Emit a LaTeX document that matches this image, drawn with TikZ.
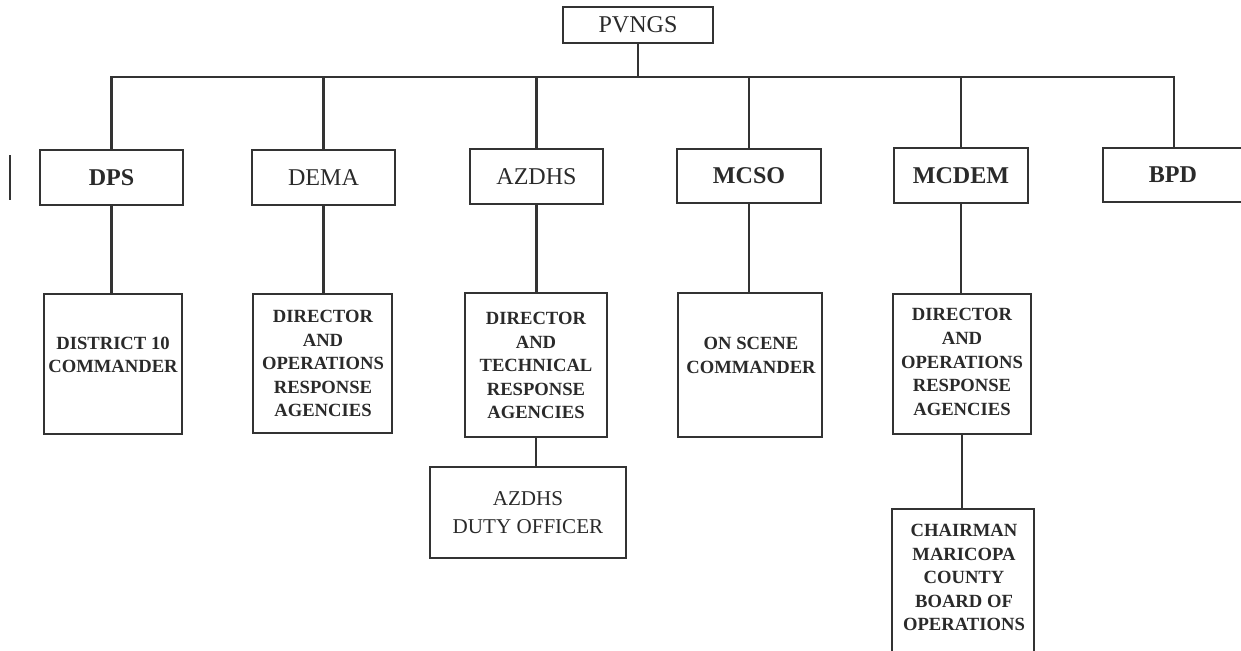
\documentclass[tikz,border=0pt]{standalone}
\usepackage{fontspec}
\setmainfont{Liberation Serif}
\definecolor{ink}{HTML}{333333}
\definecolor{txt}{HTML}{2A2A2A}
\tikzset{
  boxst/.style={draw=ink, line width=1.2pt, rectangle, inner sep=0pt, fill=none},
  wire/.style={draw=ink, line width=1.2pt},
  toplbl/.style={inner sep=0pt, text=txt, font=\fontsize{13.7}{16}\selectfont},
  toplblb/.style={toplbl, font=\fontsize{13.7}{16}\selectfont\bfseries},
  sublbl/.style={inner sep=0pt, align=center, text=txt, font=\fontsize{10.6}{13.4}\selectfont\bfseries},
  dutylbl/.style={inner sep=0pt, align=center, text=txt, font=\fontsize{12}{16}\selectfont}
}
\newcommand\mybox[5]{\node[boxst, minimum width={(#4-#2)*0.02cm}, minimum height={(#5-#3)*0.02cm}] (#1) at ({(#2+#4)/2},{(#3+#5)/2}) {};}
\begin{document}
\begin{tikzpicture}[x=0.02cm,y=-0.02cm]
\useasboundingbox (0,0) rectangle (1241,650);
% boxes
\mybox{pvngs}{563}{7}{713}{43}
\mybox{dps}{40}{150}{183}{205}
\mybox{dema}{252}{150}{395}{205}
\mybox{azdhs}{470}{149}{603}{204}
\mybox{mcso}{677}{149}{821}{203}
\mybox{mcdem}{894}{148}{1028}{203}
\mybox{bpd}{1103}{148}{1245}{202}
\mybox{dist}{44}{294}{182}{434}
\mybox{demadir}{253}{294}{392}{433}
\mybox{azdir}{465}{293}{607}{437}
\mybox{duty}{430}{467}{626}{558}
\mybox{scene}{678}{293}{822}{437}
\mybox{mcdir}{893}{294}{1031}{434}
\mybox{chair}{892}{509}{1034}{662}
% labels
\node[toplbl] (pvngs-t) at (pvngs.center) {PVNGS};
\node[toplblb] (dps-t) at (dps.center) {DPS};
\node[toplbl] (dema-t) at (dema.center) {DEMA};
\node[toplbl] (azdhs-t) at (azdhs.center) {AZDHS};
\node[toplblb] (mcso-t) at (mcso.center) {MCSO};
\node[toplblb] (mcdem-t) at (mcdem.center) {MCDEM};
\node[toplblb] (bpd-t) at (1173,175) {BPD};
\node[sublbl] (dist-t) at (113,355) {DISTRICT 10\\COMMANDER};
\node[sublbl] (demadir-t) at (323,363.5) {DIRECTOR\\AND\\OPERATIONS\\RESPONSE\\AGENCIES};
\node[sublbl] (azdir-t) at (536,365.5) {DIRECTOR\\AND\\TECHNICAL\\RESPONSE\\AGENCIES};
\node[dutylbl] (duty-t) at (528,512.5) {AZDHS\\DUTY OFFICER};
\node[sublbl] (scene-t) at (751,355.5) {ON SCENE\\COMMANDER};
\node[sublbl] (mcdir-t) at (962,362) {DIRECTOR\\AND\\OPERATIONS\\RESPONSE\\AGENCIES};
\node[sublbl] (chair-t) at (964,577.5) {CHAIRMAN\\MARICOPA\\COUNTY\\BOARD OF\\OPERATIONS};
% connectors
\coordinate (bus) at (0,77);
\draw[wire] (pvngs.south) -- (pvngs.south |- bus);
\draw[wire] (dps.north) -- (dps.north |- bus) -- (bpd.north |- bus) -- (bpd.north);
\draw[wire] (dema.north) -- (dema.north |- bus);
\draw[wire] (azdhs.north) -- (azdhs.north |- bus);
\draw[wire] (mcso.north) -- (mcso.north |- bus);
\draw[wire] (mcdem.north) -- (mcdem.north |- bus);
\draw[wire] (dps.south) -- (dps.south |- dist.north);
\draw[wire] (dema.south) -- (dema.south |- demadir.north);
\draw[wire] (azdhs.south) -- (azdhs.south |- azdir.north);
\draw[wire] (mcso.south) -- (mcso.south |- scene.north);
\draw[wire] (mcdem.south) -- (mcdem.south |- mcdir.north);
\draw[wire] (azdir.south) -- (azdir.south |- duty.north);
\draw[wire] (mcdir.south) -- (mcdir.south |- chair.north);
% stray mark at left margin
\coordinate (mk1) at (10,155);
\coordinate (mk2) at (10,200);
\draw[wire] (mk1) -- (mk2);
\end{tikzpicture}
\end{document}
